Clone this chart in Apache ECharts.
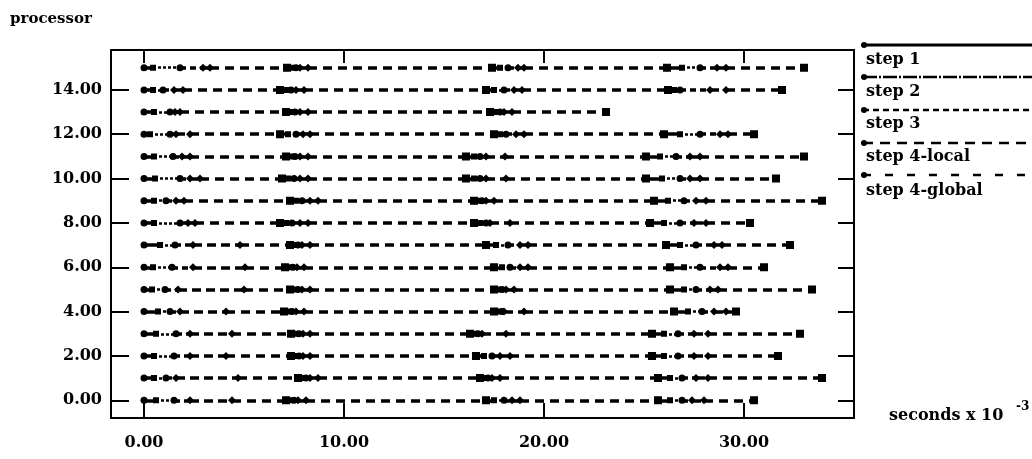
<!DOCTYPE html>
<html>
<head>
    <meta charset="utf-8">
    <script src="https://cdn.jsdelivr.net/npm/echarts@6/dist/echarts.min.js"></script>
</head>
<body style="margin:0;background:#fff">
    <div id="main" style="width:1032px;height:459px"></div>

    <script type="text/javascript">
        // step names, segments of every processor cycle through them in this order
        var stepNames = ['step 1', 'step 2', 'step 3', 'step 4-local', 'step 4-global'];
        var xTicks = [0, 10, 20, 30];
        var yTicks = [0, 2, 4, 6, 8, 10, 12, 14];

        // breakpoints (seconds x 10^-3) for each processor
        var proc0 = [0, 0.6, 1.5, 2.3, 4.4, 7.1, 7.3, 7.5, 7.7, 8.1, 17.1, 17.5, 18.0, 18.4, 18.8, 25.7, 26.3, 26.9, 27.4, 28.0, 30.5];
        var proc1 = [0, 0.5, 1.1, 1.6, 4.7, 7.7, 7.9, 8.1, 8.3, 8.7, 16.8, 17.0, 17.2, 17.4, 17.8, 25.7, 26.3, 26.9, 27.6, 28.2, 33.9];
        var proc2 = [0, 0.5, 1.5, 2.3, 4.1, 7.35, 7.55, 7.75, 7.95, 8.3, 16.6, 17.0, 17.4, 17.8, 18.3, 25.4, 26.0, 26.7, 27.5, 28.2, 31.7];
        var proc3 = [0, 0.6, 1.6, 2.3, 4.4, 7.35, 7.55, 7.75, 7.95, 8.3, 16.3, 16.5, 16.7, 16.9, 18.1, 25.4, 26.0, 26.7, 27.5, 28.2, 32.8];
        var proc4 = [0, 0.7, 1.3, 1.8, 4.1, 7.0, 7.2, 7.4, 7.6, 8.0, 17.5, 17.7, 17.9, 18.0, 19.0, 26.5, 27.2, 27.9, 28.5, 29.1, 29.6];
        var proc5 = [0, 0.4, 1.05, 1.7, 5.0, 7.3, 7.5, 7.7, 7.9, 8.3, 17.5, 17.7, 17.9, 18.1, 18.5, 26.3, 27.0, 27.6, 28.3, 28.7, 33.4];
        var proc6 = [0, 0.45, 1.4, 2.45, 5.05, 7.05, 7.25, 7.45, 7.65, 8.0, 17.5, 17.9, 18.3, 18.8, 19.2, 26.3, 27.0, 27.8, 28.8, 29.2, 31.0];
        var proc7 = [0, 0.8, 1.55, 2.45, 4.8, 7.3, 7.5, 7.7, 7.9, 8.3, 17.1, 17.6, 18.2, 18.8, 19.2, 26.1, 26.8, 27.6, 28.5, 28.9, 32.3];
        var proc8 = [0, 0.5, 1.8, 2.2, 2.55, 6.8, 7.1, 7.4, 7.8, 8.2, 16.5, 16.8, 17.1, 17.3, 18.3, 25.3, 26.0, 26.8, 27.5, 28.1, 30.3];
        var proc9 = [0, 0.5, 1.1, 1.6, 2.0, 7.3, 7.6, 7.9, 8.3, 8.7, 16.5, 16.7, 16.9, 17.1, 17.5, 25.5, 26.2, 27.0, 27.6, 28.1, 33.9];
        var proc10 = [0, 0.55, 1.8, 2.3, 2.8, 6.9, 7.2, 7.5, 7.8, 8.2, 16.1, 16.5, 16.8, 17.1, 18.1, 25.1, 25.9, 26.8, 27.3, 27.8, 31.6];
        var proc11 = [0, 0.5, 1.45, 1.9, 2.3, 7.1, 7.35, 7.55, 7.8, 8.2, 16.1, 16.5, 16.8, 17.1, 18.05, 25.1, 25.8, 26.6, 27.3, 27.8, 33.0];
        var proc12 = [0, 0.3, 1.3, 1.6, 2.3, 6.8, 7.2, 7.6, 7.95, 8.3, 17.5, 17.8, 18.1, 18.6, 19.0, 26.0, 26.8, 27.8, 28.8, 29.2, 30.5];
        var proc13 = [0, 0.5, 1.3, 1.55, 1.8, 7.1, 7.35, 7.55, 7.8, 8.2, 17.3, 17.55, 17.8, 18.0, 18.4, 23.1];
        var proc14 = [0, 0.45, 0.95, 1.5, 1.95, 6.8, 7.1, 7.35, 7.6, 8.0, 17.1, 17.5, 18.0, 18.5, 18.9, 26.2, 26.5, 26.8, 28.3, 29.1, 31.9];
        var proc15 = [0, 0.45, 1.8, 2.95, 3.3, 7.15, 7.4, 7.6, 7.8, 8.2, 17.4, 17.8, 18.2, 18.7, 19.0, 26.15, 26.9, 27.8, 28.65, 29.1, 33.0];

        var procTimes = [proc0, proc1, proc2, proc3, proc4, proc5, proc6, proc7,
                         proc8, proc9, proc10, proc11, proc12, proc13, proc14, proc15];

        // look of each step
        var stepLook = [
            { dash: 'solid', width: 3.5, symbol: ['circle', 'none'], size: 7, legendDash: null },
            { dash: [3, 2], width: 2.5, symbol: ['rect', 'none'], size: 6, legendDash: [14, 2, 2, 2] },
            { dash: [6, 4], width: 3.5, symbol: ['circle', 'none'], size: 7, legendDash: [6, 4] },
            { dash: [9, 5], width: 3.5, symbol: ['diamond', 'none'], size: 8, legendDash: [10, 7] },
            { dash: [9, 6], width: 3.5, symbol: ['diamond', 'rect'], size: 8, legendDash: [8, 14] }
        ];

        var font = 'DejaVu Serif';

        var series = [];
        for (var s = 0; s < stepNames.length; s++) {
            var segs = [];
            for (var p = 0; p < procTimes.length; p++) {
                var t = procTimes[p];
                for (var i = 0; i < t.length - 1; i++) {
                    if (i % 5 === s) {
                        segs.push({ coords: [[t[i], p], [t[i + 1], p]] });
                    }
                }
            }
            series.push({
                name: stepNames[s],
                type: 'lines',
                coordinateSystem: 'cartesian2d',
                xAxisIndex: 0,
                yAxisIndex: 0,
                symbol: stepLook[s].symbol,
                symbolSize: stepLook[s].size,
                lineStyle: { color: '#000', width: stepLook[s].width, type: stepLook[s].dash, opacity: 1 },
                itemStyle: { color: '#000' },
                data: segs
            });
        }

        // legend drawn at the right, line sample above each name
        var legendLineY = [45, 77, 110, 143, 175];
        var legendTextY = [60, 92, 124, 157, 191];
        var graphics = [];
        for (var k = 0; k < stepNames.length; k++) {
            graphics.push({
                type: 'line',
                shape: { x1: 863, y1: legendLineY[k], x2: 1032, y2: legendLineY[k] },
                style: { stroke: '#000', lineWidth: k === 0 ? 3 : 2.5, lineDash: stepLook[k].legendDash }
            });
            graphics.push({
                type: 'circle',
                shape: { cx: 864, cy: legendLineY[k], r: 3 },
                style: { fill: '#000' }
            });
            graphics.push({
                type: 'text',
                x: 866,
                y: legendTextY[k],
                style: { text: stepNames[k], font: 'bold 16px "' + font + '"', fill: '#000', verticalAlign: 'middle' }
            });
        }
        graphics.push({
            type: 'text', x: 10, y: 19,
            style: { text: 'processor', font: 'bold 15px "' + font + '"', fill: '#000', verticalAlign: 'middle' }
        });
        graphics.push({
            type: 'text', x: 889, y: 416,
            style: { text: 'seconds x 10', font: 'bold 16px "' + font + '"', fill: '#000', verticalAlign: 'middle' }
        });
        graphics.push({
            type: 'text', x: 1016, y: 407,
            style: { text: '-3', font: 'bold 12px "' + font + '"', fill: '#000', verticalAlign: 'middle' }
        });

        var axisLineStyle = { color: '#000', width: 2 };

        var myChart = echarts.init(document.getElementById('main'));
        var option = {
            animation: false,
            backgroundColor: '#fff',
            grid: { left: 111, right: 178, top: 50, bottom: 41 },
            xAxis: [{
                type: 'value', min: -1.65, max: 35.5, position: 'bottom',
                axisLine: { onZero: false, lineStyle: axisLineStyle },
                axisTick: { inside: true, length: 15, customValues: xTicks, lineStyle: axisLineStyle },
                axisLabel: { customValues: xTicks, margin: 17, formatter: function (v) { return v.toFixed(2); }, color: '#000', fontFamily: font, fontWeight: 'bold', fontSize: 16 },
                splitLine: { show: false }
            }, {
                type: 'value', min: -1.65, max: 35.5, position: 'top',
                axisLine: { onZero: false, lineStyle: axisLineStyle },
                axisTick: { inside: true, length: 13, customValues: xTicks, lineStyle: axisLineStyle },
                axisLabel: { show: false },
                splitLine: { show: false }
            }],
            yAxis: [{
                type: 'value', min: -0.8, max: 15.8, position: 'left',
                axisLine: { onZero: false, lineStyle: axisLineStyle },
                axisTick: { inside: true, length: 18, customValues: yTicks, lineStyle: axisLineStyle },
                axisLabel: { customValues: yTicks, margin: 9, formatter: function (v) { return v.toFixed(2); }, color: '#000', fontFamily: font, fontWeight: 'bold', fontSize: 16 },
                splitLine: { show: false }
            }, {
                type: 'value', min: -0.8, max: 15.8, position: 'right',
                axisLine: { onZero: false, lineStyle: axisLineStyle },
                axisTick: { inside: true, length: 16, customValues: yTicks, lineStyle: axisLineStyle },
                axisLabel: { show: false },
                splitLine: { show: false }
            }],
            graphic: graphics,
            series: series
        };

        myChart.setOption(option);
    </script>
</body>
</html>
